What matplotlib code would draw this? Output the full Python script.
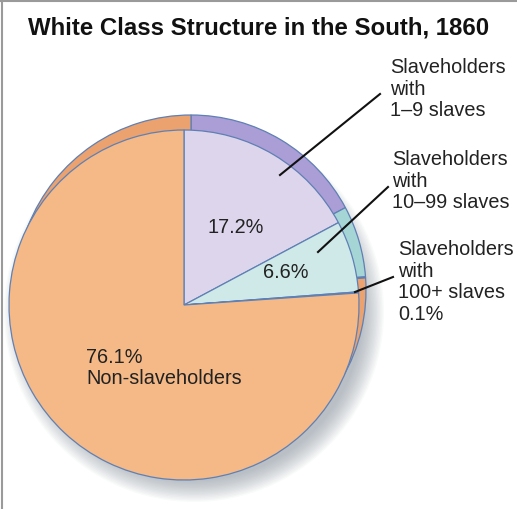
import matplotlib.pyplot as plt
from matplotlib.patches import Circle

plt.rcParams['font.family'] = ['Liberation Sans', 'DejaVu Sans']

# data
groups = ["Slaveholders with 1–9 slaves", "Slaveholders with 10–99 slaves",
          "Slaveholders with 100+ slaves", "Non-slaveholders"]
shares = [17.2, 6.6, 0.1, 76.1]
front_colors = ["#ddd5ec", "#cfe8e8", "#e6ef9c", "#f4b987"]
back_colors = ["#ab9dd6", "#a6d5d5", "#c8d878", "#eba26e"]

W, H = 517, 509
fig = plt.figure(figsize=(W / 100, H / 100), dpi=100)
ax = fig.add_axes([0, 0, 1, 1])

def py(y):
    # pixel row -> data y
    return H - y

front_c = (184, py(305))
front_r = 175
back_c = (191, py(290))
back_r = 175

# soft drop shadow
for i in range(16):
    ax.add_patch(Circle((194, py(312)), 190 - i * 1.4,
                        color="#76838f", alpha=0.04, lw=0, zorder=1))

edge = "#5f80b4"
ax.pie(shares, colors=back_colors, startangle=90, counterclock=False,
       center=back_c, radius=back_r, frame=True,
       wedgeprops=dict(edgecolor=edge, linewidth=0.9, zorder=2))
ax.pie(shares, colors=front_colors, startangle=90, counterclock=False,
       center=front_c, radius=front_r, frame=True,
       wedgeprops=dict(edgecolor=edge, linewidth=0.9, zorder=3))
ax.set_xlim(0, W)
ax.set_ylim(0, H)
ax.axis("off")

txt = "#222222"
fs = 14.3
ls = 1.17
ax.text(259, py(28), "White Class Structure in the South, 1860", ha="center",
        va="center", fontsize=17.3, fontweight="bold", color="#111111")

ax.text(236, py(227), f"{shares[0]}%", ha="center", va="center", fontsize=fs, color=txt)
ax.text(286, py(272), f"{shares[1]}%", ha="center", va="center", fontsize=fs, color=txt)
ax.text(86, py(368), f"{shares[3]}%\nNon-slaveholders", ha="left", va="center",
        fontsize=fs, color=txt, linespacing=ls)

ax.text(390, py(89), "Slaveholders\nwith\n1–9 slaves", ha="left", va="center",
        fontsize=fs, color=txt, linespacing=ls)
ax.text(392, py(181), "Slaveholders\nwith\n10–99 slaves", ha="left", va="center",
        fontsize=fs, color=txt, linespacing=ls)
ax.text(398, py(282), f"Slaveholders\nwith\n100+ slaves\n{shares[2]}%", ha="left",
        va="center", fontsize=fs, color=txt, linespacing=ls)

# leader lines
ax.plot([280, 380], [py(175), py(94)], color="#111111", lw=1.5, zorder=5)
ax.plot([318, 388], [py(252), py(187)], color="#111111", lw=1.5, zorder=5)
ax.plot([355, 393], [py(292), py(277)], color="#111111", lw=1.5, zorder=5)

# frame lines on top and left
ax.plot([1.5, 1.5], [0, H], color="#9a9a9a", lw=1.5, zorder=6)
ax.plot([0, W], [H - 1, H - 1], color="#9a9a9a", lw=1.5, zorder=6)

fig.savefig("out.png", dpi=100)
